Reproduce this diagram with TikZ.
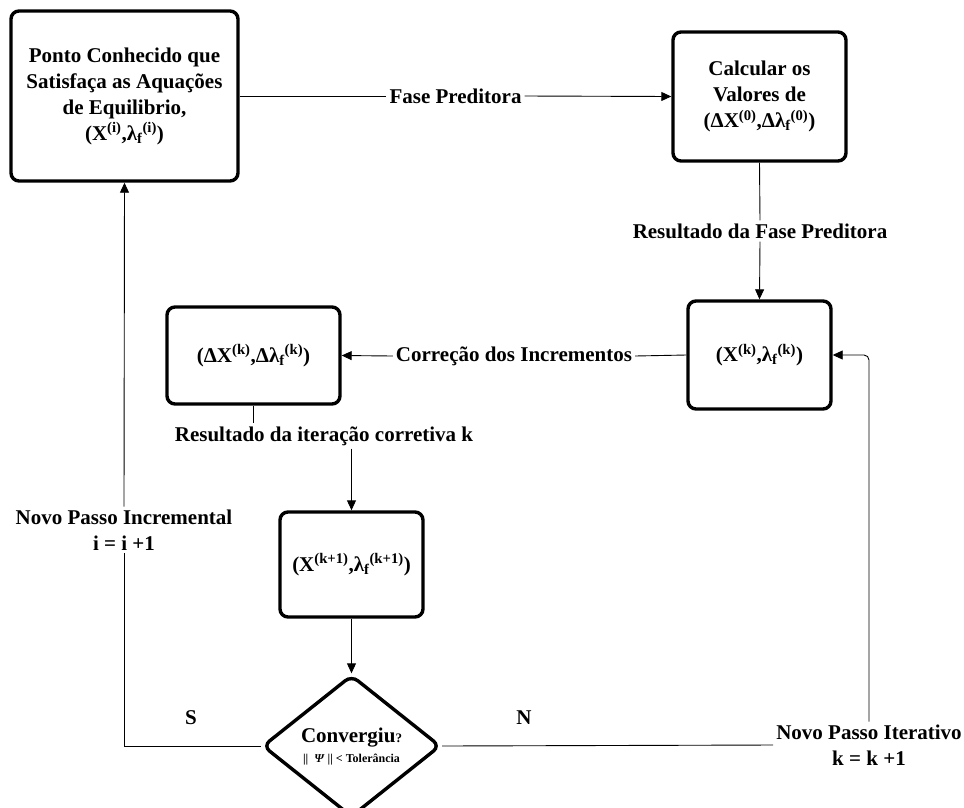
\documentclass[tikz,border=0pt]{standalone}
\usepackage{fontspec}
\setmainfont{Liberation Serif}
\usetikzlibrary{arrows.meta,
                shapes.geometric}

\begin{document}
\begin{tikzpicture}[x=1pt, y=-1pt,
        font=\fontsize{21}{26}\selectfont\bfseries,
        caixa/.style={draw, line width=3.4pt, rounded corners=8pt, align=center, inner sep=2pt},
        decisao/.style={draw, diamond, aspect=1.33, line width=3.4pt, rounded corners=8pt, align=center, inner sep=0pt},
        rotulo/.style={align=center, inner sep=3pt},
        linha/.style={line width=0.9pt},
        seta/.style={linha, -{Triangle[length=10pt,width=9pt]}}]
            \useasboundingbox (0,0) rectangle (964,807);
            \node [caixa, minimum width=227pt, minimum height=170pt] (ponto) at (124.5,96) {Ponto Conhecido que\\Satisfaça as Aquações\\de Equilibrio,\\(X\textsuperscript{(i)},λ\textsubscript{f}\textsuperscript{(i)})};
            \node [caixa, minimum width=173pt, minimum height=129pt] (calc) at (759.5,96.5) {Calcular os\\Valores de\\(ΔX\textsuperscript{(0)},Δλ\textsubscript{f}\textsuperscript{(0)})};
            \node [caixa, minimum width=143pt, minimum height=108pt] (pk) at (759.5,355) {(X\textsuperscript{(k)},λ\textsubscript{f}\textsuperscript{(k)})};
            \node [caixa, minimum width=173pt, minimum height=97pt] (dk) at (253.5,355.5) {(ΔX\textsuperscript{(k)},Δλ\textsubscript{f}\textsuperscript{(k)})};
            \node [caixa, minimum width=143pt, minimum height=105pt] (kp1) at (351.5,564.5) {(X\textsuperscript{(k+1)},λ\textsubscript{f}\textsuperscript{(k+1)})};
            \node [decisao, minimum width=178pt, minimum height=142pt] (conv) at (351.5,746) {Convergiu{\fontsize{13}{15}\selectfont ?}\\[-6pt]{\fontsize{12}{14}\selectfont ||~~\textit{Ψ}~|| < Tolerância}};
            \node [rotulo] (fp) at (455.5,96) {Fase Preditora};
            \node [rotulo] (rfp) at (760,231) {Resultado da Fase Preditora};
            \node [rotulo] (ci) at (514,356) {Correção dos Incrementos};
            \node [rotulo] (rit) at (324,436) {Resultado da iteração corretiva k};
            \node [rotulo] (incr) at (124,530) {Novo Passo Incremental\\i = i +1};
            \node [rotulo] (iter) at (869,745) {Novo Passo Iterativo\\k = k +1};
            \node (sim) at (191,718) {S};
            \node (nao) at (524,718) {N};
            \draw [linha] (ponto.east) -- (fp.west);
            \draw [seta] (fp.east) -- (calc.west);
            \draw [linha] (calc.south) -- (rfp.north);
            \draw [seta] (rfp.south) -- (pk.north);
            \draw [linha] (pk.west) -- (ci.east);
            \draw [seta] (ci.west) -- (dk.east);
            \draw [linha] (dk.south) -- (dk.south |- rit.north);
            \draw [seta] (rit.south -| kp1.north) -- (kp1.north);
            \draw [seta] (kp1.south) -- (conv.north);
            \draw [linha] (conv.west) -| (incr.south);
            \draw [seta] (incr.north) -- (ponto.south);
            \draw [linha] (conv.east) -- (iter.west);
            \draw [seta, rounded corners=5pt] (iter.north) |- (pk.east);
        \end{tikzpicture}
\end{document}
